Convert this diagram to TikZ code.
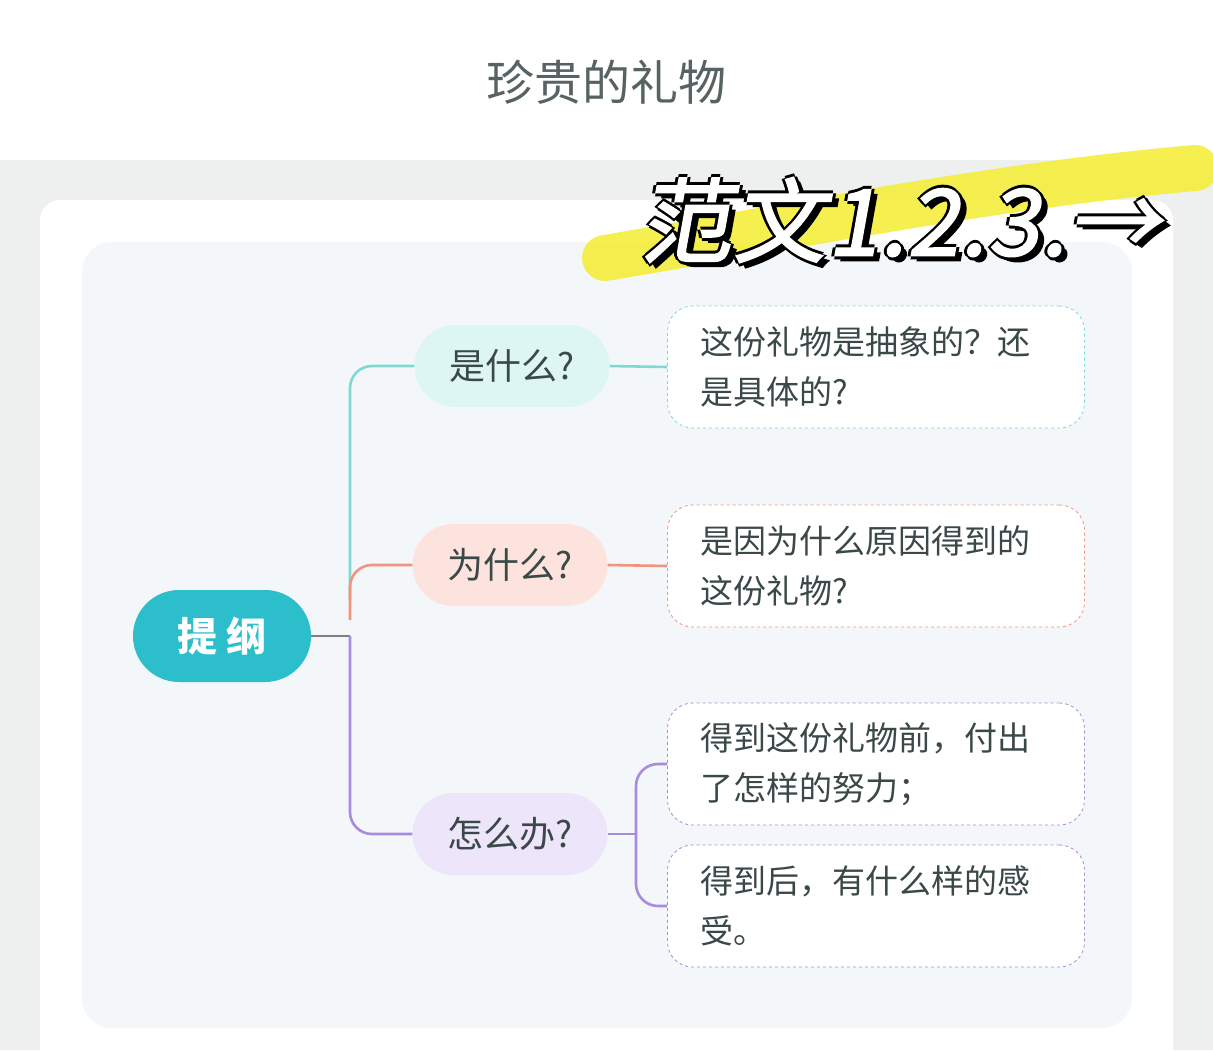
\documentclass[tikz,border=0pt]{standalone}
\usepackage{fontspec}
\setmainfont{Noto Sans CJK SC}
\newfontfamily\cjkslant[FakeSlant=0.18,FakeBold=2,LetterSpace=2]{Noto Sans CJK SC}
\usetikzlibrary{calc}
\definecolor{band}{HTML}{EEF0EF}
\definecolor{panel}{HTML}{F3F7FA}
\definecolor{rootc}{HTML}{2CBFCB}
\definecolor{teal}{HTML}{7ED9D3}
\definecolor{tealf}{HTML}{DDF5F3}
\definecolor{sal}{HTML}{F2937E}
\definecolor{salf}{HTML}{FDE3DE}
\definecolor{pur}{HTML}{A98BDE}
\definecolor{purf}{HTML}{EDE5FA}
\definecolor{txt}{HTML}{3A4848}
\definecolor{hl}{HTML}{F4EE3C}
\tikzset{
 branch/.style={rounded corners=41pt,minimum width=195pt,minimum height=82pt,font=\fontsize{36}{40}\selectfont,text=txt},
 leaf/.style={draw,dashed,fill=white,rounded corners=25pt,minimum width=417pt,minimum height=122pt,text width=352pt,align=left,font=\fontsize{33}{50}\selectfont,text=txt,line width=0.8pt},
 conn/.style={line width=2.6pt,rounded corners=22pt}
}
\begin{document}
\begin{tikzpicture}[x=1pt,y=-1pt]
\useasboundingbox (0,0) rectangle (1213,1050);
\fill[white] (0,0) rectangle (1213,1050);
\fill[band] (0,160) rectangle (1213,1050);
\fill[white,rounded corners=20pt] (40,200) rectangle (1173,1080);
\fill[panel,rounded corners=30pt] (82,242) rectangle (1132,1028);
\node[font=\fontsize{48}{52}\selectfont,text=txt!85] (title) at (606,82) {珍贵的礼物};
% highlight
\draw[hl,line width=46pt,line cap=round,opacity=0.9] (605,258) .. controls (800,225) and (1000,185) .. (1195,168);
% nodes
\node[fill=rootc,rounded corners=46pt,minimum width=178pt,minimum height=92pt,text=white,font=\fontsize{40}{44}\selectfont\bfseries] (root) at (222,636) {提 纲};
\node[branch,fill=tealf] (b1) at (512,366) {是什么?};
\node[branch,fill=salf] (b2) at (510,565) {为什么?};
\node[branch,fill=purf] (b3) at (510,834) {怎么办?};
\node[leaf,draw=teal] (l1) at (876,367) {这份礼物是抽象的？还\\是具体的?};
\node[leaf,draw=sal] (l2) at (876,566) {是因为什么原因得到的\\这份礼物?};
\node[leaf,draw=pur] (l3) at (876,764) {得到这份礼物前，付出\\了怎样的努力；};
\node[leaf,draw=pur] (l4) at (876,906) {得到后，有什么样的感\\受。};
% connectors
\coordinate (j) at (350,636);
\draw[conn,draw=gray] (root.east) -- (j);
\draw[conn,draw=teal] (350,600) -- (350,366) -- (b1.west);
\draw[conn,draw=sal] (350,620) -- (350,565) -- (b2.west);
\draw[conn,draw=pur] (j) -- (350,834) -- (b3.west);
\draw[conn,draw=teal] (b1.east) -- (l1.west);
\draw[conn,draw=sal] (b2.east) -- (l2.west);
\coordinate (k) at (636,834);
\draw[conn,draw=pur] (b3.east) -- (k);
\draw[conn,draw=pur] (k) -- (636,764) -- (l3.west);
\draw[conn,draw=pur] (k) -- (636,906) -- (l4.west);
% stamp text
\foreach \dx/\dy in {-3/0,3/0,0/-3,0/3,6/5}{
 \node[font=\fontsize{92}{94}\cjkslant,text=black,anchor=west] at (636+\dx,220+\dy) {范文1.2.3.→};
}
\node[font=\fontsize{92}{94}\cjkslant,text=white,anchor=west] (stamp) at (636,220) {范文1.2.3.→};
\end{tikzpicture}
\end{document}
